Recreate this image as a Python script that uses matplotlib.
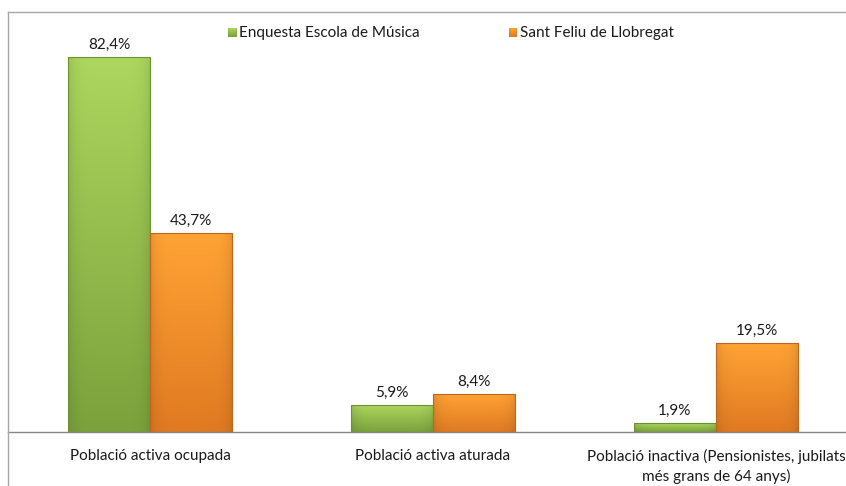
import matplotlib.pyplot as plt
import numpy as np
from matplotlib.colors import to_rgb
from matplotlib.lines import Line2D

categories = [
    "Població activa ocupada",
    "Població activa aturada",
    "Població inactiva (Pensionistes, jubilats\nmés grans de 64 anys)",
]
series_names = ["Enquesta Escola de Música", "Sant Feliu de Llobregat"]
escola = [82.4, 5.9, 1.9]
sant_feliu = [43.7, 8.4, 19.5]

W, H = 846, 486


def gradient_img(top, bottom, n=64):
    top = np.array(to_rgb(top))
    bottom = np.array(to_rgb(bottom))
    t = np.linspace(0, 1, n)[:, None]
    col = top * (1 - t) + bottom * t
    # slight darkening toward the side edges
    u = np.linspace(-1, 1, n)[None, :]
    edge = 1 - 0.10 * np.abs(u) ** 6
    img = col[:, None, :] * edge[..., None]
    return np.clip(img, 0, 1)


def main():
    plt.rcParams["font.family"] = ["Lato", "DejaVu Sans"]
    fig = plt.figure(figsize=(W / 100, H / 100), dpi=100)
    fig.patch.set_facecolor("white")

    # axes: left at 8px, right at figure edge, baseline at y=432
    base = 432
    px_per_pct = 4.55
    ymax = 90
    top = base - ymax * px_per_pct
    left = 8
    ax = fig.add_axes([left / W, (H - base) / H, (W - left) / W, (base - top) / H])
    step = 283.0
    xlo = (left - 150) / step
    xhi = (W - 150) / step

    for s in ["top", "right", "left"]:
        ax.spines[s].set_visible(False)
    ax.spines["bottom"].set_color("#868686")
    ax.spines["bottom"].set_linewidth(1.0)
    ax.set_yticks([])
    ax.set_xticks(range(len(categories)))
    ax.set_xticklabels(categories, fontsize=11, color="#1a1a1a", linespacing=1.4)
    ax.tick_params(axis="x", length=0, pad=12)

    width = 0.29
    x = np.arange(len(categories))
    styles = [
        ("#acd65e", "#7ba23c", "#6b9330"),
        ("#ffa335", "#e07a22", "#c0661a"),
    ]
    for k, (vals, st) in enumerate(zip([escola, sant_feliu], styles)):
        xs = x + (k - 0.5) * width
        bars = ax.bar(xs, vals, width, color="none", edgecolor=st[2],
                      linewidth=0.8, zorder=3)
        img = gradient_img(st[0], st[1])
        for b, v in zip(bars, vals):
            x0 = b.get_x()
            im = ax.imshow(img, extent=[x0, x0 + width, 0, v], aspect="auto",
                           origin="upper", zorder=2, interpolation="bilinear")
            im.set_clip_path(b)
            ax.text(x0 + width / 2, v + 12 / px_per_pct,
                    f"{v:.1f}".replace(".", ",") + "%", ha="center",
                    va="center", fontsize=11, color="#1a1a1a", zorder=4)
    ax.set_xlim(xlo, xhi)
    ax.set_ylim(0, ymax)

    # chart border (top and left visible)
    bc = "#a6a6a6"
    fig.add_artist(Line2D([left / W, 1], [1 - 12 / H, 1 - 12 / H],
                          color=bc, lw=1.0, transform=fig.transFigure))
    fig.add_artist(Line2D([left / W, left / W], [0, 1 - 12 / H],
                          color=bc, lw=1.0, transform=fig.transFigure))

    # legend
    leg_y = 1 - 33 / H
    for (lx, name, st) in [(228, series_names[0], styles[0]),
                           (509, series_names[1], styles[1])]:
        lax = fig.add_axes([lx / W, 1 - 37 / H, 8 / W, 9 / H])
        lax.imshow(gradient_img(st[0], st[1]), aspect="auto", extent=[0, 1, 0, 1])
        lax.set_axis_off()
        fig.text((lx + 11) / W, leg_y, name, ha="left", va="center",
                 fontsize=11, color="#1a1a1a")

    fig.savefig("out.png", dpi=100)


if __name__ == "__main__":
    main()
